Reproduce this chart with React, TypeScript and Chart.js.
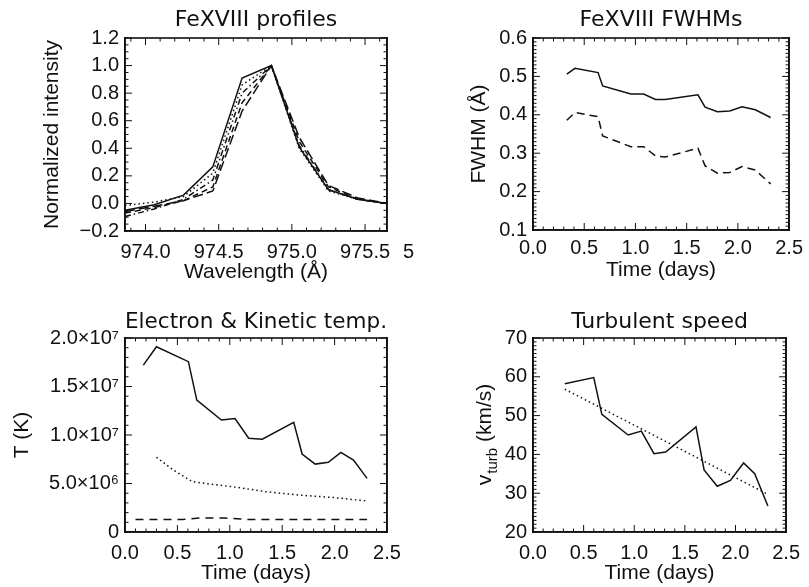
import React, { useEffect, useRef } from "react";
import { Chart, registerables } from "chart.js";

Chart.register(...registerables);

// ---------------- Data ----------------
// Panel 1: FeXVIII profiles
const wavelengths = [973.86, 974.06, 974.26, 974.46, 974.66, 974.86, 975.05, 975.25, 975.45, 975.65];
const profileSolid = [-0.05, -0.01, 0.06, 0.265, 0.91, 1.0, 0.41, 0.1, 0.03, 0.0];
const profileDotted = [-0.015, 0.01, 0.05, 0.22, 0.86, 1.0, 0.4, 0.09, 0.03, 0.0];
const profileDashDot = [-0.095, -0.04, 0.03, 0.17, 0.8, 1.0, 0.42, 0.1, 0.03, 0.0];
const profileDashed = [-0.07, -0.03, 0.02, 0.12, 0.73, 1.0, 0.45, 0.12, 0.03, 0.0];
const profileLongDash = [-0.06, -0.02, 0.02, 0.09, 0.67, 1.0, 0.48, 0.13, 0.04, 0.0];
const profileXTicks = [974.0, 974.5, 975.0, 975.5];
const profileXLabels = ["974.0", "974.5", "975.0", "975.5"];
const profileYTicks = [-0.2, 0, 0.2, 0.4, 0.6, 0.8, 1.0, 1.2];
const profileYLabels = ["\u22120.2", "0.0", "0.2", "0.4", "0.6", "0.8", "1.0", "1.2"];
const strayLabel = "5";

// Panel 2: FeXVIII FWHMs
const fwhmTimes = [0.33, 0.41, 0.635, 0.68, 0.955, 1.08, 1.195, 1.29, 1.61, 1.68, 1.8, 1.92, 2.04, 2.17, 2.32];
const fwhmSolid = [0.506, 0.521, 0.51, 0.475, 0.454, 0.454, 0.44, 0.44, 0.452, 0.42, 0.408, 0.41, 0.421, 0.413, 0.393];
const fwhmDashed = [0.386, 0.406, 0.395, 0.345, 0.317, 0.317, 0.293, 0.29, 0.313, 0.267, 0.248, 0.25, 0.265, 0.256, 0.22];
const fwhmTicks = [0.1, 0.2, 0.3, 0.4, 0.5, 0.6];
const fwhmLabels = ["0.1", "0.2", "0.3", "0.4", "0.5", "0.6"];

// Shared time axis
const timeTicks = [0, 0.5, 1.0, 1.5, 2.0, 2.5];
const timeLabels = ["0.0", "0.5", "1.0", "1.5", "2.0", "2.5"];

// Panel 3: Electron & Kinetic temp.
const electronTimes = [0.175, 0.3, 0.605, 0.685, 0.92, 1.05, 1.18, 1.31, 1.61, 1.69, 1.815, 1.94, 2.06, 2.18, 2.31];
const electronTemp = [1.72e7, 1.91e7, 1.756e7, 1.36e7, 1.155e7, 1.17e7, 0.966e7, 0.956e7, 1.13e7, 0.804e7, 0.7e7, 0.718e7, 0.82e7, 0.742e7, 0.553e7];
const kineticTimes = [0.3, 0.46, 0.64, 0.8, 1.04, 1.35, 1.67, 1.99, 2.31];
const kineticTemp = [7.7e6, 6.4e6, 5.2e6, 4.95e6, 4.65e6, 4.15e6, 3.8e6, 3.55e6, 3.2e6];
const ionTimes = [0.1, 0.55, 0.72, 0.95, 1.15, 2.31];
const ionTemp = [1.3e6, 1.3e6, 1.45e6, 1.45e6, 1.3e6, 1.3e6];
const tempTicks = [0, 5e6, 1e7, 1.5e7, 2e7];
const tempLabels = ["0", "5.0\u00d710\u2076", "1.0\u00d710\u2077", "1.5\u00d710\u2077", "2.0\u00d710\u2077"];

// Panel 4: Turbulent speed
const turbTimes = [0.314, 0.6, 0.68, 0.94, 1.07, 1.195, 1.31, 1.61, 1.69, 1.82, 1.95, 2.08, 2.19, 2.32];
const turbSpeed = [58.2, 59.8, 50.3, 45.0, 46.0, 40.2, 40.6, 47.1, 36.0, 31.8, 33.3, 37.8, 35.0, 26.7];
const fitTimes = [0.314, 2.32];
const fitSpeed = [56.8, 29.7];
const turbTicks = [20, 30, 40, 50, 60, 70];
const turbLabels = ["20", "30", "40", "50", "60", "70"];
const turbTitleMain = "v";
const turbTitleSub = "turb";
const turbTitleUnits = " (km/s)";

// ---------------- Styling ----------------
const INK = "#111111";
const SANS = "'Liberation Sans', Arial, sans-serif";
const tickFont = () => ({ family: SANS, size: 20 });
const axisFont = () => ({ family: SANS, size: 21 });
const titleFont = () => ({ family: "'DejaVu Sans', sans-serif", size: 22, weight: "normal" });
const frameBorder = () => ({ display: true, color: INK, width: 1.6 });

const DOT = [1.5, 3];
const DASH = [6, 4];
const DASHDOT = [6, 3, 1.5, 3];
const LONGDASH = [10, 4];

const series = (xs: number[], ys: number[], dash: number[] = []) => ({
  data: xs.map((x, i) => ({ x, y: ys[i] })),
  showLine: true,
  borderColor: INK,
  borderWidth: 1.5,
  borderDash: dash.slice(),
  pointRadius: 0,
  fill: false,
  tension: 0,
});

function framePlugin(o: {
  xMajor: number;
  xMinor: number;
  yMajor: number;
  yMinor: number;
  extra?: (ctx: any, chart: any) => void;
}) {
  return {
    id: "idlFrame",
    afterDraw(chart: any) {
      const ctx = chart.ctx;
      const a = chart.chartArea;
      ctx.save();
      ctx.fillStyle = INK;
      ctx.fillRect(a.left - 0.8, a.top - 0.8, a.right - a.left + 1.6, 1.6);
      ctx.fillRect(a.left - 0.8, a.bottom - 0.8, a.right - a.left + 1.6, 1.6);
      ctx.fillRect(a.left - 0.8, a.top - 0.8, 1.6, a.bottom - a.top + 1.6);
      ctx.fillRect(a.right - 0.8, a.top - 0.8, 1.6, a.bottom - a.top + 1.6);
      try {
        const sx = chart.scales.x;
        const sy = chart.scales.y;
        const xn0 = Math.ceil(sx.min / o.xMinor - 1e-6);
        const xn1 = Math.floor(sx.max / o.xMinor + 1e-6);
        for (let k = xn0; k <= xn1; k++) {
          const v = k * o.xMinor;
          const r = v / o.xMajor;
          const len = Math.abs(r - Math.round(r)) < 1e-6 ? 7 : 3.5;
          const px = sx.getPixelForValue(v);
          ctx.fillRect(px - 0.5, a.bottom - len, 1, len);
          ctx.fillRect(px - 0.5, a.top, 1, len);
        }
        const yn0 = Math.ceil(sy.min / o.yMinor - 1e-6);
        const yn1 = Math.floor(sy.max / o.yMinor + 1e-6);
        for (let k = yn0; k <= yn1; k++) {
          const v = k * o.yMinor;
          const r = v / o.yMajor;
          const len = Math.abs(r - Math.round(r)) < 1e-6 ? 7 : 3.5;
          const py = sy.getPixelForValue(v);
          ctx.fillRect(a.left, py - 0.5, len, 1);
          ctx.fillRect(a.right - len, py - 0.5, len, 1);
        }
      } catch (e) {
        // keep drawing
      }
      if (o.extra) o.extra(ctx, chart);
      ctx.restore();
    },
  };
}

type PanelOpts = {
  datasets: any[];
  xMin: number;
  xMax: number;
  xTicks: number[];
  xLabels: string[];
  xTickPad: number;
  xTitle: string;
  xTitlePad: number;
  xAxisH: number;
  yMin: number;
  yMax: number;
  yTicks: number[];
  yLabels: string[];
  yTitle: string | null;
  yTitlePad: number;
  yAxisW: number;
  rightW: number;
  title: string;
  titlePadTop: number;
  titlePadBottom: number;
  frame: any;
};

function buildConfig(p: PanelOpts): any {
  return {
    type: "scatter",
    data: { datasets: p.datasets },
    plugins: [p.frame],
    options: {
      animation: false,
      responsive: false,
      devicePixelRatio: 1,
      events: [],
      layout: { padding: 0 },
      plugins: {
        legend: { display: false },
        tooltip: { enabled: false },
        title: {
          display: true,
          fullSize: false,
          text: p.title,
          color: INK,
          font: titleFont(),
          padding: { top: p.titlePadTop, bottom: p.titlePadBottom },
        },
      },
      scales: {
        x: {
          type: "linear",
          position: "bottom",
          min: p.xMin,
          max: p.xMax,
          afterBuildTicks: (s: any) => {
            s.ticks = p.xTicks.map((v) => ({ value: v }));
          },
          afterTickToLabelConversion: (s: any) => {
            s.ticks.forEach((t: any, i: number) => {
              t.label = p.xLabels[i];
            });
          },
          afterFit: (s: any) => {
            s.height = p.xAxisH;
          },
          grid: { display: false, drawTicks: false },
          border: frameBorder(),
          ticks: {
            color: INK,
            font: tickFont(),
            padding: p.xTickPad,
            autoSkip: false,
            maxRotation: 0,
          },
          title: {
            display: true,
            text: p.xTitle,
            color: INK,
            font: axisFont(),
            padding: { top: 0, bottom: p.xTitlePad },
          },
        },
        y: {
          type: "linear",
          position: "left",
          min: p.yMin,
          max: p.yMax,
          afterBuildTicks: (s: any) => {
            s.ticks = p.yTicks.map((v) => ({ value: v }));
          },
          afterTickToLabelConversion: (s: any) => {
            s.ticks.forEach((t: any, i: number) => {
              t.label = p.yLabels[i];
            });
          },
          afterFit: (s: any) => {
            s.width = p.yAxisW;
          },
          grid: { display: false, drawTicks: false },
          border: frameBorder(),
          ticks: {
            color: INK,
            font: tickFont(),
            padding: 6,
            autoSkip: false,
          },
          title: {
            display: p.yTitle !== null,
            text: p.yTitle ?? "",
            color: INK,
            font: axisFont(),
            padding: { top: p.yTitlePad, bottom: 0 },
          },
        },
        rightPad: {
          type: "linear",
          position: "right",
          axis: "y",
          display: true,
          grid: { display: false, drawTicks: false },
          border: frameBorder(),
          ticks: { display: false },
          afterFit: (s: any) => {
            s.width = p.rightW;
          },
        },
      },
    },
  };
}

function ChartBox(props: { left: number; top: number; width: number; height: number; make: () => any }) {
  const ref = useRef<HTMLCanvasElement>(null);
  useEffect(() => {
    const chart = new Chart(ref.current as HTMLCanvasElement, props.make());
    return () => chart.destroy();
  }, []);
  return (
    <canvas
      ref={ref}
      width={props.width}
      height={props.height}
      style={{ position: "absolute", left: props.left, top: props.top, width: props.width, height: props.height }}
    />
  );
}

const makeProfiles = () =>
  buildConfig({
    datasets: [
      series(wavelengths, profileLongDash, LONGDASH),
      series(wavelengths, profileDashed, DASH),
      series(wavelengths, profileDashDot, DASHDOT),
      series(wavelengths, profileDotted, DOT),
      series(wavelengths, profileSolid),
    ],
    xMin: 973.86,
    xMax: 975.65,
    xTicks: profileXTicks,
    xLabels: profileXLabels,
    xTickPad: 9,
    xTitle: "Wavelength (\u00c5)",
    xTitlePad: 5.4,
    xAxisH: 59,
    yMin: -0.2,
    yMax: 1.2,
    yTicks: profileYTicks,
    yLabels: profileYLabels,
    yTitle: "Normalized intensity",
    yTitlePad: 39.4,
    yAxisW: 125,
    rightW: 33,
    title: "FeXVIII profiles",
    titlePadTop: 6.8,
    titlePadBottom: 4.8,
    frame: framePlugin({
      xMajor: 0.5,
      xMinor: 0.1,
      yMajor: 0.2,
      yMinor: 0.05,
      extra: (ctx, chart) => {
        const a = chart.chartArea;
        ctx.fillStyle = INK;
        ctx.font = `20px ${SANS}`;
        ctx.textAlign = "left";
        ctx.textBaseline = "middle";
        ctx.fillText(strayLabel, 403, a.bottom + 21);
      },
    }),
  });

const makeFwhm = () =>
  buildConfig({
    datasets: [series(fwhmTimes, fwhmSolid), series(fwhmTimes, fwhmDashed, [8, 5])],
    xMin: 0,
    xMax: 2.5,
    xTicks: timeTicks,
    xLabels: timeLabels,
    xTickPad: 6,
    xTitle: "Time (days)",
    xTitlePad: 7.4,
    xAxisH: 60,
    yMin: 0.1,
    yMax: 0.6,
    yTicks: fwhmTicks,
    yLabels: fwhmLabels,
    yTitle: "FWHM (\u00c5)",
    yTitlePad: 46.9,
    yAxisW: 113,
    rightW: 13,
    title: "FeXVIII FWHMs",
    titlePadTop: 6.8,
    titlePadBottom: 4.8,
    frame: framePlugin({ xMajor: 0.5, xMinor: 0.1, yMajor: 0.1, yMinor: 0.01 }),
  });

const makeTemps = () =>
  buildConfig({
    datasets: [
      series(electronTimes, electronTemp),
      series(kineticTimes, kineticTemp, DOT),
      series(ionTimes, ionTemp, [8, 6]),
    ],
    xMin: 0,
    xMax: 2.5,
    xTicks: timeTicks,
    xLabels: timeLabels,
    xTickPad: 9,
    xTitle: "Time (days)",
    xTitlePad: 1.4,
    xAxisH: 55,
    yMin: 0,
    yMax: 2e7,
    yTicks: tempTicks,
    yLabels: tempLabels,
    yTitle: "T (K)",
    yTitlePad: 9.4,
    yAxisW: 125,
    rightW: 33,
    title: "Electron & Kinetic temp.",
    titlePadTop: 18.8,
    titlePadBottom: 2.8,
    frame: framePlugin({ xMajor: 0.5, xMinor: 0.1, yMajor: 5e6, yMinor: 1e6 }),
  });

const makeTurb = () =>
  buildConfig({
    datasets: [series(turbTimes, turbSpeed), series(fitTimes, fitSpeed, DOT)],
    xMin: 0,
    xMax: 2.5,
    xTicks: timeTicks,
    xLabels: timeLabels,
    xTickPad: 9,
    xTitle: "Time (days)",
    xTitlePad: 1.4,
    xAxisH: 55,
    yMin: 20,
    yMax: 70,
    yTicks: turbTicks,
    yLabels: turbLabels,
    yTitle: null,
    yTitlePad: 0,
    yAxisW: 113,
    rightW: 13,
    title: "Turbulent speed",
    titlePadTop: 18.8,
    titlePadBottom: 2.8,
    frame: framePlugin({
      xMajor: 0.5,
      xMinor: 0.1,
      yMajor: 10,
      yMinor: 1,
      extra: (ctx, chart) => {
        const a = chart.chartArea;
        const bx = a.left - 42.5;
        const cy = (a.top + a.bottom) / 2;
        ctx.fillStyle = INK;
        ctx.translate(bx, cy);
        ctx.rotate(-Math.PI / 2);
        ctx.textAlign = "left";
        ctx.textBaseline = "alphabetic";
        const mainF = `21px ${SANS}`;
        const subF = `15px ${SANS}`;
        ctx.font = mainF;
        const wv = ctx.measureText(turbTitleMain).width;
        const wu = ctx.measureText(turbTitleUnits).width;
        ctx.font = subF;
        const ws = ctx.measureText(turbTitleSub).width;
        const x0 = -(wv + ws + wu) / 2;
        ctx.font = mainF;
        ctx.fillText(turbTitleMain, x0, 0);
        ctx.font = subF;
        ctx.fillText(turbTitleSub, x0 + wv + 1, 6);
        ctx.font = mainF;
        ctx.fillText(turbTitleUnits, x0 + wv + ws + 1, 0);
      },
    }),
  });

export default function App() {
  return (
    <div
      style={{
        position: "absolute",
        left: 0,
        top: 0,
        width: 809,
        height: 587,
        overflow: "hidden",
        background: "#fff",
      }}
    >
      <ChartBox left={0} top={0} width={420} height={290} make={makeProfiles} />
      <ChartBox left={420} top={0} width={389} height={290} make={makeFwhm} />
      <ChartBox left={0} top={290} width={420} height={297} make={makeTemps} />
      <ChartBox left={420} top={290} width={389} height={297} make={makeTurb} />
    </div>
  );
}
